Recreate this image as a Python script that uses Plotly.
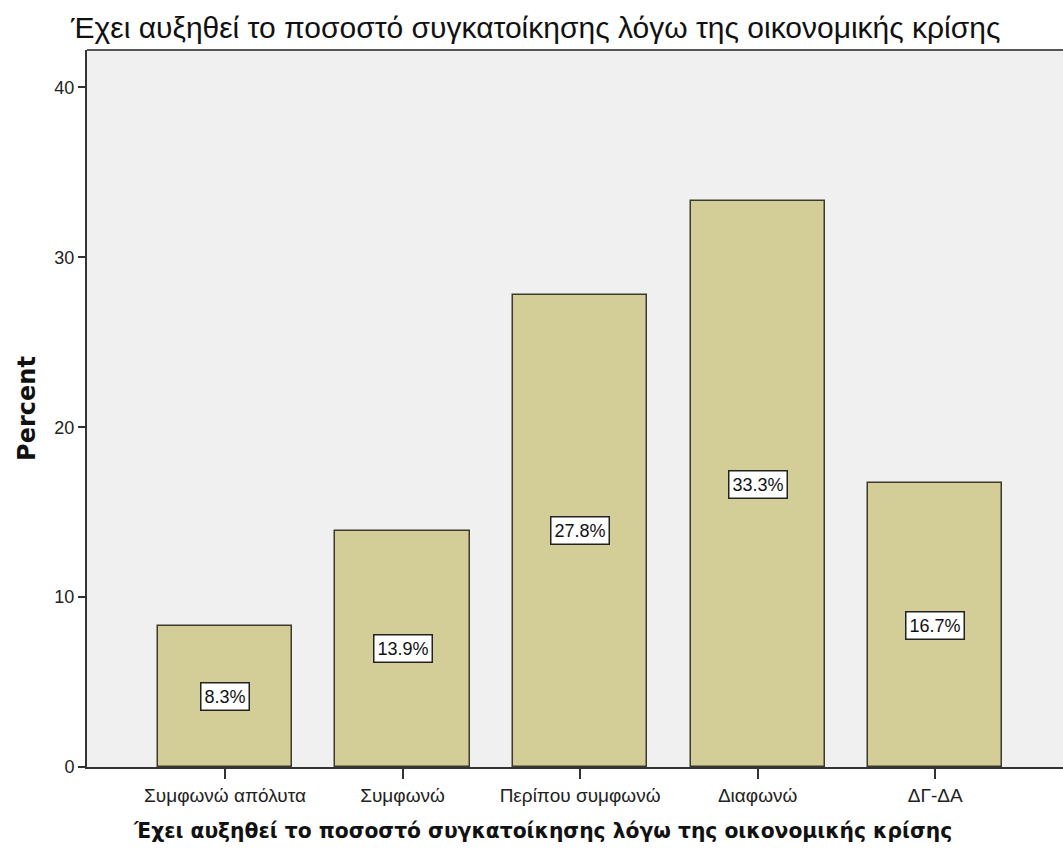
import plotly.graph_objects as go

categories = ["Συμφωνώ απόλυτα", "Συμφωνώ", "Περίπου συμφωνώ", "Διαφωνώ", "ΔΓ-ΔΑ"]
percents = [8.3, 13.9, 27.8, 33.3, 16.7]
y_ticks = [0, 10, 20, 30, 40]

title_text = "Έχει αυξηθεί το ποσοστό συγκατοίκησης λόγω της οικονομικής κρίσης"

SANS = "Liberation Sans, Arial, sans-serif"
WIDE = "DejaVu Sans, Verdana, sans-serif"
BAR_FILL = "#D3CE97"
BAR_EDGE = "#3B3A2C"

fig = go.Figure()
fig.add_trace(go.Bar(
    x=list(range(len(categories))),
    y=percents,
    width=0.755,
    marker=dict(color=BAR_FILL, line=dict(color=BAR_EDGE, width=1.5)),
    hoverinfo="skip",
))

# value labels in white boxes at the middle of each bar
for i, v in enumerate(percents):
    fig.add_annotation(
        x=i, y=v / 2, text=f"{v:.1f}%", showarrow=False,
        font=dict(family=SANS, size=18, color="#111111"),
        bgcolor="white", bordercolor="#222222", borderwidth=1.5, borderpad=3,
    )

# x-axis title, placed as a paper-anchored label below the tick labels
fig.add_annotation(
    xref="paper", yref="paper", x=0.467, y=-0.0893,
    xanchor="center", yanchor="middle", showarrow=False,
    text="<b>" + title_text + "</b>",
    font=dict(family=WIDE, size=20.3, color="#111111"),
)

fig.update_layout(
    width=1063, height=849,
    margin=dict(l=87, r=0, t=50, b=82),
    paper_bgcolor="white",
    plot_bgcolor="#F0F0F0",
    showlegend=False,
    bargap=0,
    title=dict(text=title_text, x=0.504, xanchor="center", y=0.968, yanchor="middle",
               font=dict(family=SANS, size=30, color="#111111")),
    font=dict(family=SANS, color="#111111"),
)

fig.update_xaxes(
    range=[-0.777, 4.72],
    tickvals=list(range(len(categories))), ticktext=categories,
    ticks="outside", ticklen=10, tickcolor="#333333", tickwidth=1.5,
    tickfont=dict(family=SANS, size=19, color="#222222"),
    showline=True, linecolor="#333333", linewidth=2,
    showgrid=False, zeroline=False,
)
fig.update_yaxes(
    range=[0, 42.2],
    tickvals=y_ticks,
    ticks="outside", ticklen=7, tickcolor="#333333", tickwidth=1.5,
    tickfont=dict(family=SANS, size=18, color="#222222"),
    showline=True, linecolor="#333333", linewidth=2,
    showgrid=False, zeroline=False,
    title=dict(text="<b>Percent</b>", standoff=12,
               font=dict(family=WIDE, size=24, color="#111111")),
)

# top frame edge
fig.add_shape(type="line", xref="paper", yref="paper", x0=0, x1=1, y0=1, y1=1,
              line=dict(color="#555555", width=2))

fig.write_html("out.html")
